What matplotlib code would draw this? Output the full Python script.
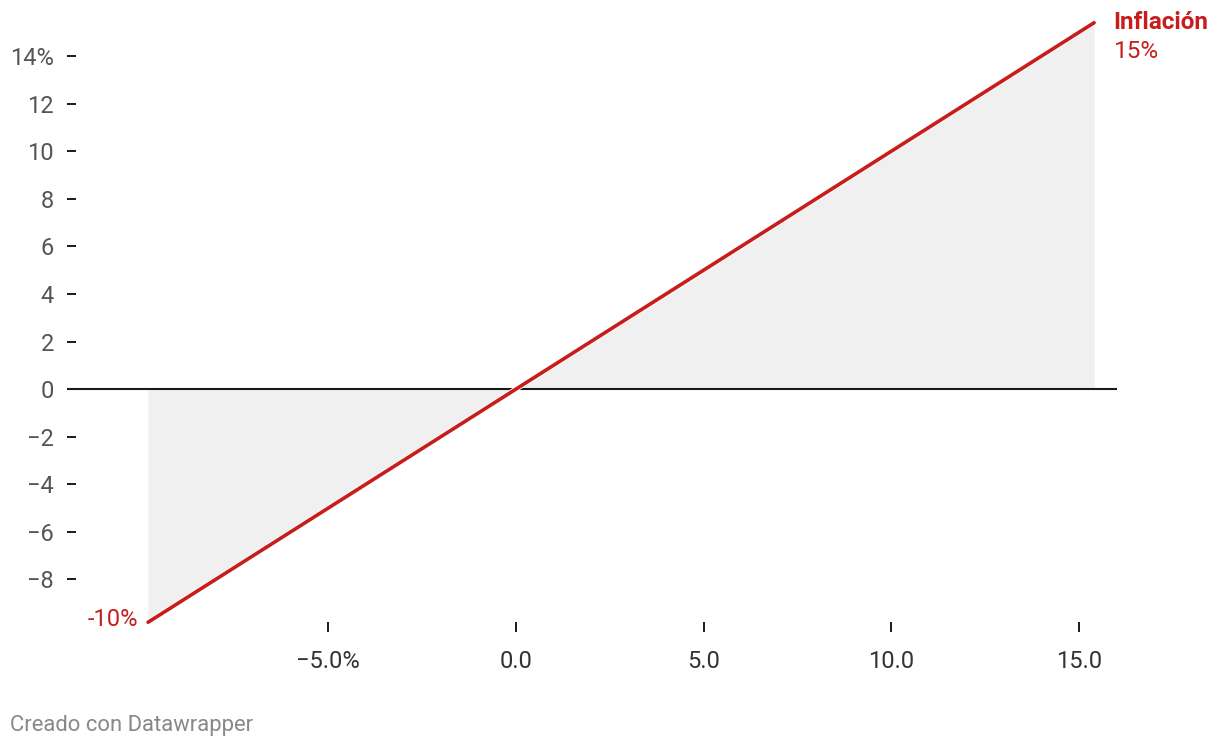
import matplotlib
matplotlib.use("Agg")
import matplotlib.pyplot as plt
import matplotlib.patheffects as pe

# data
x_vals = [-9.8, 15.4]
inflacion = [-9.8, 15.4]
x_ticks = [-5, 0, 5, 10, 15]
x_labels = ["\u22125.0%", "0.0", "5.0", "10.0", "15.0"]
y_ticks = [-8, -6, -4, -2, 0, 2, 4, 6, 8, 10, 12, 14]
y_labels = ["\u22128", "\u22126", "\u22124", "\u22122", "0", "2", "4", "6", "8", "10", "12", "14%"]

RED = "#c71e1d"
plt.rcParams['font.family'] = ['Roboto', 'DejaVu Sans']

fig = plt.figure(figsize=(12.2, 7.48), dpi=100)
ax = fig.add_axes([67 / 1220, (748 - 622) / 748, (1117 - 67) / 1220, (622 - 22) / 748])
ax.set_xlim(-11.96, 16.01)
ax.set_ylim(-9.79, 15.43)

ax.fill_between(x_vals, inflacion, 0, color="#f0f0f0", lw=0, zorder=1)
ax.axhline(0, color="#1a1a1a", lw=1.5, zorder=2)
ax.plot(x_vals, inflacion, color=RED, lw=2.6, solid_capstyle='round', clip_on=False, zorder=3,
        path_effects=[pe.Stroke(linewidth=3.9, foreground="white"), pe.Normal()])

for s in ax.spines.values():
    s.set_visible(False)

ax.set_xticks(x_ticks)
ax.set_xticklabels(x_labels)
ax.set_yticks(y_ticks)
ax.set_yticklabels(y_labels)
ax.tick_params(axis='x', direction='out', length=7.2, width=1.4, color="#1a1a1a",
               pad=13, labelsize=17, labelcolor="#333333")
ax.tick_params(axis='y', direction='in', length=6.5, width=1.4, color="#1a1a1a",
               pad=9.4, labelsize=17, labelcolor="#555555")

# direct labels
ax.annotate("Inflación", xy=(x_vals[-1], inflacion[-1]), xytext=(14, 0), textcoords='offset points',
            ha='left', va='center', fontsize=17.5, fontweight='bold', color=RED, annotation_clip=False)
ax.annotate("15%", xy=(x_vals[-1], inflacion[-1]), xytext=(14, -21), textcoords='offset points',
            ha='left', va='center', fontsize=17.5, color=RED, annotation_clip=False)
ax.annotate("-10%", xy=(x_vals[0], inflacion[0]), xytext=(-7, 2), textcoords='offset points',
            ha='right', va='center', fontsize=17, color=RED, annotation_clip=False)

fig.text(10 / 1220, 1 - 726 / 748, "Creado con Datawrapper", ha='left', va='center',
         fontsize=15.8, color="#888888")

fig.savefig("out.png", dpi=100)
